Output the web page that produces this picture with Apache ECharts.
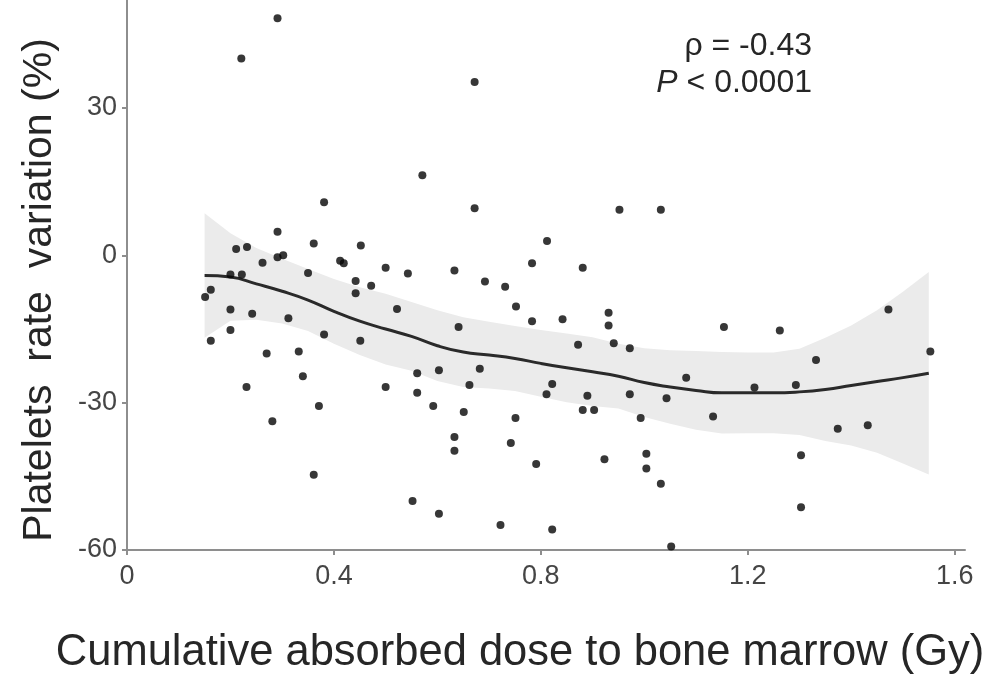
<!DOCTYPE html>
<html>
<head>
<meta charset="utf-8">
<script src="https://cdn.jsdelivr.net/npm/echarts@6/dist/echarts.min.js"></script>
<style>
  html, body { margin: 0; padding: 0; background: #ffffff; }
  #chart { width: 986px; height: 674px; }
</style>
</head>
<body>
<div id="chart"></div>
<script>
// Per-patient observations: cumulative marrow dose (Gy) and platelet change (%)
const doseGy = [
  0.291, 0.221, 0.672, 0.571, 0.381, 0.291, 0.211, 0.232, 0.361, 0.452,
  0.262, 0.291, 0.302, 0.412, 0.419, 0.500, 0.200, 0.222, 0.350, 0.442,
  0.442, 0.472, 0.162, 0.151, 0.200, 0.242, 0.312, 0.200, 0.381, 0.451,
  0.162, 0.270, 0.332, 0.672, 0.812, 0.783, 0.881, 0.543, 0.633, 0.692,
  0.731, 0.522, 0.752, 0.783, 0.842, 0.641, 0.872, 0.952, 1.032, 0.931,
  0.931, 0.941, 0.972, 1.154, 1.262, 1.472, 1.332, 1.553, 0.231, 0.340,
  0.371, 0.281, 0.361, 0.500, 0.561, 0.603, 0.682, 0.561, 0.662, 0.592,
  0.651, 0.822, 0.811, 0.890, 0.881, 0.751, 0.633, 0.633, 0.742, 0.791,
  0.552, 0.603, 0.722, 0.822, 0.903, 0.972, 1.043, 1.081, 0.993, 1.133,
  1.213, 0.923, 1.004, 1.004, 1.032, 1.052, 1.293, 1.374, 1.432, 1.303,
  1.303
];
const plateletChange = [
  48.3, 40.1, 35.3, 16.3, 10.8, 4.8, 1.3, 1.7, 2.4, 2.0,
  -1.5, -0.4, 0.0, -1.1, -1.6, -2.5, -3.9, -3.9, -3.6, -5.2,
  -7.7, -6.2, -7.0, -8.5, -11.0, -11.9, -12.8, -15.2, -16.1, -17.4,
  -17.4, -20.0, -19.6, 9.6, 2.9, -1.6, -2.5, -3.7, -3.1, -5.3,
  -6.4, -10.9, -10.4, -13.4, -13.0, -14.6, -18.2, 9.3, 9.3, -11.7,
  -14.3, -17.9, -18.9, -14.6, -15.3, -11.0, -21.3, -19.6, -26.8, -24.6,
  -30.7, -33.8, -44.7, -26.8, -24.0, -23.4, -23.1, -28.0, -26.4, -30.7,
  -31.9, -26.2, -28.3, -28.6, -31.5, -33.1, -37.0, -39.8, -38.2, -42.5,
  -50.0, -52.6, -54.9, -55.8, -31.5, -28.3, -29.1, -24.9, -33.1, -32.8,
  -26.9, -41.5, -40.4, -43.4, -46.5, -59.3, -26.4, -35.3, -34.6, -40.7,
  -51.3
];

// Smoothed trend with its confidence band
const fitDose = [
  0.15, 0.20, 0.25, 0.30, 0.35, 0.40, 0.45, 0.50, 0.55, 0.60,
  0.65, 0.70, 0.75, 0.80, 0.85, 0.90, 0.95, 1.00, 1.05, 1.10,
  1.15, 1.20, 1.25, 1.30, 1.35, 1.40, 1.45, 1.50, 1.55
];
const fitValue = [
  -4.1, -4.4, -5.8, -7.3, -9.1, -11.4, -13.4, -15.0, -16.5, -18.4,
  -19.7, -20.3, -21.0, -22.0, -22.9, -23.7, -24.6, -25.9, -26.8, -27.5,
  -28.0, -28.0, -28.0, -27.8, -27.3, -26.5, -25.7, -24.9, -24.0
];
const bandUpper = [
  8.6, 4.5, 1.5, -0.7, -2.8, -4.8, -6.5, -7.8, -9.5, -11.2,
  -12.6, -13.5, -14.4, -15.2, -15.9, -16.7, -18.0, -18.9, -19.3, -19.5,
  -19.7, -19.8, -19.8, -19.0, -16.8, -14.3, -11.2, -7.4, -3.4
];
const bandLower = [
  -16.8, -13.3, -13.1, -13.9, -15.4, -18.0, -20.3, -22.2, -23.5, -25.6,
  -26.8, -27.1, -27.6, -28.8, -29.9, -30.7, -31.2, -32.9, -34.3, -35.5,
  -36.3, -36.2, -36.2, -36.6, -37.8, -38.7, -40.2, -42.4, -44.6
];

// Axis ticks
const xTicks = [0, 0.4, 0.8, 1.2, 1.6];
const yTicks = [-60, -30, 0, 30];

const FONT = '"Liberation Sans", Arial, sans-serif';
const AXIS_GREY = '#8e8e8e';
const LABEL_GREY = '#454545';
const TEXT_DARK = '#262626';

const chart = echarts.init(document.getElementById('chart'), null, { renderer: 'canvas' });

const axisLine = { show: true, onZero: false, lineStyle: { color: AXIS_GREY, width: 2 } };
const axisTick = { show: true, length: 5, lineStyle: { color: AXIS_GREY, width: 2 } };
const axisLabel = { color: LABEL_GREY, fontFamily: FONT, fontSize: 27 };

chart.setOption({
  animation: false,
  backgroundColor: '#ffffff',
  grid: { left: 127, right: 21, top: 0, bottom: 124, containLabel: false },
  xAxis: {
    type: 'value',
    min: 0,
    max: 1.62,
    interval: 0.4,
    axisLine: axisLine,
    splitLine: { show: false },
    axisTick: Object.assign({}, axisTick, { customValues: xTicks }),
    axisLabel: Object.assign({}, axisLabel, {
      customValues: xTicks,
      margin: 13,
      formatter: v => String(Math.round(v * 10) / 10)
    })
  },
  yAxis: {
    type: 'value',
    min: -60,
    max: 52,
    interval: 30,
    axisLine: axisLine,
    splitLine: { show: false },
    axisTick: Object.assign({}, axisTick, { customValues: yTicks }),
    axisLabel: Object.assign({}, axisLabel, {
      customValues: yTicks,
      margin: 10
    })
  },
  series: [
    {
      // confidence band drawn as one filled polygon
      type: 'custom',
      coordinateSystem: 'cartesian2d',
      silent: true,
      z: 1,
      data: fitDose.map((x, i) => [x, bandLower[i], bandUpper[i]]),
      encode: { x: 0, y: [1, 2] },
      renderItem: function (params, api) {
        if (params.dataIndex !== 0) return null;
        const top = fitDose.map((x, i) => api.coord([x, bandUpper[i]]));
        const bottom = fitDose.map((x, i) => api.coord([x, bandLower[i]])).reverse();
        return {
          type: 'polygon',
          shape: { points: top.concat(bottom) },
          style: { fill: '#ebebeb', stroke: null }
        };
      }
    },
    {
      type: 'line',
      z: 2,
      silent: true,
      smooth: true,
      showSymbol: false,
      data: fitDose.map((x, i) => [x, fitValue[i]]),
      lineStyle: { color: '#2a2a2a', width: 3 }
    },
    {
      type: 'scatter',
      z: 3,
      symbol: 'circle',
      symbolSize: 8,
      data: doseGy.map((x, i) => [x, plateletChange[i]]),
      itemStyle: { color: '#050505' }
    }
  ],
  graphic: [
    {
      type: 'text',
      x: 40, y: 290,
      rotation: Math.PI / 2,
      style: {
        text: 'Platelets  rate  variation (%)',
        font: '41px ' + FONT,
        fill: TEXT_DARK,
        align: 'center',
        verticalAlign: 'middle'
      }
    },
    {
      type: 'text',
      x: 520, y: 653,
      style: {
        text: 'Cumulative absorbed dose to bone marrow (Gy)',
        font: '43.5px ' + FONT,
        fill: TEXT_DARK,
        align: 'center',
        verticalAlign: 'middle'
      }
    },
    {
      type: 'text',
      x: 812, y: 46,
      style: {
        text: 'ρ = -0.43',
        font: '32px ' + FONT,
        fill: TEXT_DARK,
        align: 'right',
        verticalAlign: 'middle'
      }
    },
    {
      type: 'text',
      x: 812, y: 83,
      style: {
        text: '{i|P} < 0.0001',
        font: '32px ' + FONT,
        fill: TEXT_DARK,
        align: 'right',
        verticalAlign: 'middle',
        rich: {
          i: { fontStyle: 'italic', fontFamily: FONT, fontSize: 32, fill: TEXT_DARK }
        }
      }
    }
  ]
});
</script>
</body>
</html>
